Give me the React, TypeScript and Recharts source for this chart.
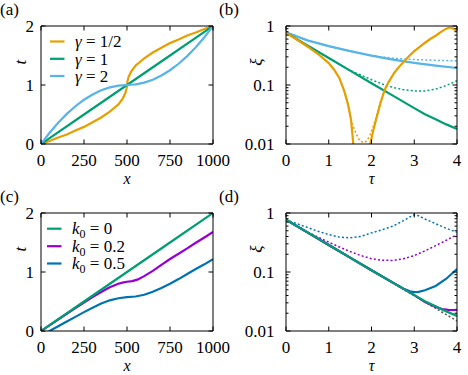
import React from 'react';
import { LineChart, Line, XAxis, YAxis } from 'recharts';

const FONT = '"Liberation Serif", "Times New Roman", serif';
const FS = 17;

const C_ORANGE = '#E69F00';
const C_GREEN = '#009E73';
const C_SKY = '#56B4E9';
const C_PURPLE = '#9400D3';
const C_BLUE = '#0072B2';
const C_GRAY = '#555555';

// ---------- panel (a): t(x) ----------
const aHalfX = [0, 50, 100, 150, 200, 250, 300, 350, 400, 425, 450, 475, 490, 497, 500, 503, 510, 525, 550, 575, 600, 650, 700, 750, 800, 850, 900, 950, 1000];
const aHalfT = [0, 0.05, 0.11, 0.16, 0.23, 0.29, 0.37, 0.45, 0.55, 0.61, 0.67, 0.77, 0.86, 0.93, 1.0, 1.07, 1.14, 1.23, 1.33, 1.39, 1.45, 1.55, 1.63, 1.71, 1.77, 1.84, 1.89, 1.95, 2.0];
const aOneX = [0, 250, 500, 750, 1000];
const aOneT = [0, 0.5, 1, 1.5, 2];
const aTwoX = [0, 50, 100, 150, 200, 250, 300, 350, 400, 450, 500, 550, 600, 650, 700, 750, 800, 850, 900, 950, 1000];
const aTwoT = [0, 0.19, 0.36, 0.51, 0.64, 0.75, 0.84, 0.91, 0.96, 0.99, 1.0, 1.01, 1.04, 1.09, 1.16, 1.25, 1.36, 1.49, 1.64, 1.81, 2.0];

// ---------- panel (b): xi(tau) ----------
const bHalfTau = [0, 0.25, 0.5, 0.75, 1, 1.13, 1.25, 1.36, 1.45, 1.52, 1.575, 1.62, 1.8, 1.93, 1.97, 2.05, 2.14, 2.22, 2.31, 2.4, 2.53, 2.65, 2.77, 2.9, 3.0, 3.12, 3.25, 3.4, 3.51, 3.6, 3.7, 3.8, 3.86, 3.93, 4.0];
const bHalfXi: (number | null)[] = [0.77, 0.59, 0.45, 0.335, 0.235, 0.18, 0.13, 0.08, 0.047, 0.026, 0.01, 0.005, null, 0.005, 0.01, 0.018, 0.032, 0.052, 0.083, 0.112, 0.16, 0.205, 0.255, 0.32, 0.375, 0.44, 0.52, 0.62, 0.69, 0.77, 0.86, 0.935, 0.94, 0.89, 0.8];
const bHalfDotTau = [0, 0.25, 0.5, 0.75, 1, 1.13, 1.25, 1.36, 1.45, 1.54, 1.6, 1.65, 1.72, 1.8, 1.85, 1.9, 1.97, 2.04, 2.12, 2.2, 2.31, 2.4, 2.53, 2.65, 2.77, 2.9, 3.0, 3.12, 3.25, 3.4, 3.51, 3.6, 3.7, 3.8, 3.86, 3.93, 4.0];
const bHalfDotXi = [0.77, 0.59, 0.45, 0.335, 0.235, 0.18, 0.13, 0.08, 0.048, 0.023, 0.0175, 0.0145, 0.0115, 0.0106, 0.0108, 0.0115, 0.0145, 0.02, 0.03, 0.05, 0.083, 0.112, 0.16, 0.205, 0.255, 0.32, 0.375, 0.44, 0.52, 0.62, 0.69, 0.77, 0.86, 0.935, 0.94, 0.89, 0.8];

const greenTau = [0, 0.5, 1, 1.5, 2, 2.5, 3, 3.25, 3.5, 3.75, 4];
const greenXi = [0.77, 0.47, 0.287, 0.175, 0.107, 0.066, 0.0405, 0.032, 0.0262, 0.0215, 0.018];
const bOneDotTau = [0, 0.5, 1, 1.5, 1.75, 2, 2.25, 2.5, 2.75, 3, 3.25, 3.5, 3.75, 4];
const bOneDotXi = [0.77, 0.47, 0.287, 0.175, 0.148, 0.123, 0.104, 0.091, 0.083, 0.0795, 0.0795, 0.085, 0.098, 0.118];

const bTwoTau = [0, 0.5, 1, 1.5, 2, 2.5, 3, 3.5, 4];
const bTwoXi = [0.78, 0.57, 0.455, 0.375, 0.315, 0.27, 0.237, 0.213, 0.194];
const bTwoDotTau = [0, 0.5, 1, 1.5, 2, 2.25, 2.5, 2.75, 3, 3.5, 4];
const bTwoDotXi = [0.78, 0.57, 0.455, 0.375, 0.315, 0.298, 0.285, 0.276, 0.27, 0.262, 0.256];

// ---------- panel (c): t(x) ----------
const cZeroX = [0, 250, 500, 750, 1000];
const cZeroT = [0, 0.5, 1, 1.5, 2];
const cMidX = [0, 100, 200, 300, 350, 400, 450, 480, 500, 530, 560, 600, 650, 700, 750, 800, 850, 900, 950, 1000];
const cMidT = [0, 0.195, 0.39, 0.575, 0.66, 0.74, 0.8, 0.825, 0.835, 0.845, 0.87, 0.93, 1.02, 1.12, 1.22, 1.31, 1.4, 1.495, 1.585, 1.678];
const cHighX = [0, 50, 100, 150, 200, 250, 300, 350, 400, 450, 500, 550, 600, 650, 700, 750, 800, 850, 900, 950, 1000];
const cHighT = [-0.08, 0, 0.08, 0.16, 0.24, 0.32, 0.395, 0.465, 0.52, 0.555, 0.575, 0.585, 0.615, 0.665, 0.73, 0.8, 0.88, 0.965, 1.05, 1.13, 1.215];

// ---------- panel (d): xi(tau) ----------
const dRefTau = [0, 0.5, 1, 1.5, 2, 2.5, 3, 3.5, 4];
const dRefXi = [0.77, 0.47, 0.287, 0.175, 0.1066, 0.065, 0.0397, 0.0242, 0.0148];
const dMidTau = [0, 0.5, 1, 1.5, 2, 2.5, 3, 3.25, 3.5, 3.65, 3.8, 3.9, 4];
const dMidXi = [0.77, 0.47, 0.287, 0.175, 0.107, 0.066, 0.0405, 0.031, 0.0255, 0.0235, 0.0228, 0.0227, 0.0228];
const dHighTau = [0, 0.5, 1, 1.5, 2, 2.5, 2.75, 2.9, 3, 3.1, 3.25, 3.5, 3.75, 4];
const dHighXi = [0.77, 0.47, 0.287, 0.175, 0.107, 0.066, 0.052, 0.047, 0.0455, 0.046, 0.049, 0.058, 0.077, 0.112];
const dHighDotTau = [0, 0.25, 0.5, 0.75, 1, 1.25, 1.5, 1.75, 2, 2.25, 2.5, 2.75, 2.9, 3, 3.1, 3.25, 3.5, 3.75, 4];
const dHighDotXi = [0.77, 0.66, 0.57, 0.49, 0.43, 0.39, 0.38, 0.4, 0.46, 0.52, 0.6, 0.74, 0.86, 0.93, 0.9, 0.79, 0.66, 0.55, 0.47];
const dMidDotTau = [0, 0.25, 0.5, 0.75, 1, 1.25, 1.5, 1.75, 2, 2.25, 2.5, 2.75, 3, 3.25, 3.5, 3.75, 4];
const dMidDotXi = [0.77, 0.6, 0.48, 0.39, 0.32, 0.265, 0.222, 0.19, 0.168, 0.158, 0.157, 0.168, 0.19, 0.228, 0.28, 0.345, 0.43];

// ---------- ticks ----------
const xTicksLin = [0, 250, 500, 750, 1000];
const yTicksLin = [0, 1, 2];
const tauTicks = [0, 1, 2, 3, 4];
const logMajor = [0.01, 0.1, 1];
const logTicks = [0.01, 0.02, 0.03, 0.04, 0.05, 0.06, 0.07, 0.08, 0.09, 0.1, 0.2, 0.3, 0.4, 0.5, 0.6, 0.7, 0.8, 0.9, 1];

const zip = (xs: number[], ys: (number | null)[]) => xs.map((x, i) => ({ x, y: ys[i] }));

type S = { data: { x: number; y: number | null }[]; color: string; dotted?: boolean };

function Panel(props: {
  left: number; top: number; w: number; h: number;
  m: { top: number; right: number; bottom: number; left: number };
  xDomain: [number, number]; xTicks: number[];
  yDomain: [number, number]; yTicks: number[]; yMajor: number[]; log: boolean;
  labelDx: number; series: S[];
}) {
  const { left, top, w, h, m, xDomain, xTicks, yDomain, yTicks, yMajor, log, labelDx, series } = props;
  const BottomTick = (p: any) => (
    <g>
      <line x1={p.x} x2={p.x} y1={p.y} y2={p.y - 4.5} stroke="#000" strokeWidth={1} />
      <text x={p.x} y={p.y + 22} textAnchor="middle" fontFamily={FONT} fontSize={FS} fill="#000">{String(p.payload.value)}</text>
    </g>
  );
  const TopTick = (p: any) => (
    <line x1={p.x} x2={p.x} y1={p.y} y2={p.y + 4.5} stroke="#000" strokeWidth={1} />
  );
  const LeftTick = (p: any) => {
    const v = p.payload.value;
    const major = yMajor.indexOf(v) >= 0;
    return (
      <g>
        <line x1={p.x} x2={p.x + (major ? 4.5 : 2.5)} y1={p.y} y2={p.y} stroke="#000" strokeWidth={1} />
        {major ? (
          <text x={p.x - labelDx} y={p.y + 5.7} textAnchor="end" fontFamily={FONT} fontSize={FS} fill="#000">{String(v)}</text>
        ) : null}
      </g>
    );
  };
  const RightTick = (p: any) => {
    const v = p.payload.value;
    const major = yMajor.indexOf(v) >= 0;
    return <line x1={p.x} x2={p.x - (major ? 4.5 : 2.5)} y1={p.y} y2={p.y} stroke="#000" strokeWidth={1} />;
  };
  const axisLine = { stroke: '#000', strokeWidth: 1 };
  return (
    <div style={{ position: 'absolute', left, top, width: w, height: h }}>
      <LineChart width={w} height={h} margin={m}>
        <XAxis xAxisId="b" orientation="bottom" dataKey="x" type="number" domain={xDomain} ticks={xTicks} interval={0}
          allowDataOverflow height={1} tickSize={0} tickMargin={0} tickLine={false} axisLine={axisLine} tick={BottomTick} />
        <XAxis xAxisId="t" orientation="top" dataKey="x" type="number" domain={xDomain} ticks={xTicks} interval={0}
          allowDataOverflow height={1} tickSize={0} tickMargin={0} tickLine={false} axisLine={axisLine} tick={TopTick} />
        <YAxis yAxisId="l" orientation="left" type="number" scale={log ? 'log' : 'linear'} domain={yDomain} ticks={yTicks} interval={0}
          allowDataOverflow width={1} tickSize={0} tickMargin={0} tickLine={false} axisLine={axisLine} tick={LeftTick} />
        <YAxis yAxisId="r" orientation="right" type="number" scale={log ? 'log' : 'linear'} domain={yDomain} ticks={yTicks} interval={0}
          allowDataOverflow width={1} tickSize={0} tickMargin={0} tickLine={false} axisLine={axisLine} tick={RightTick} />
        {series.map((s, i) => (
          <Line key={i} xAxisId="b" yAxisId="l" data={s.data} dataKey="y" type="linear" stroke={s.color}
            strokeWidth={s.dotted ? 1.5 : 2.2} strokeDasharray={s.dotted ? '2 2.2' : undefined}
            dot={false} activeDot={false} isAnimationActive={false} connectNulls={false} />
        ))}
      </LineChart>
    </div>
  );
}

function T(props: { x: number; y: number; children: React.ReactNode; anchor?: string; italic?: boolean; rotate?: boolean; size?: number }) {
  const { x, y, children, anchor, italic, rotate, size } = props;
  return (
    <text x={x} y={y} textAnchor={anchor || 'start'} fontFamily={FONT} fontSize={size || FS} fill="#000"
      fontStyle={italic ? 'italic' : 'normal'} dominantBaseline={rotate ? 'central' : undefined}
      transform={rotate ? `rotate(-90 ${x} ${y})` : undefined}>{children}</text>
  );
}

function LegendRow(props: { x: number; y: number; color: string; children: React.ReactNode }) {
  const { x, y, color, children } = props;
  return (
    <g>
      <line x1={x} x2={x + 14.5} y1={y} y2={y} stroke={color} strokeWidth={2.2} />
      <text x={x + 25} y={y + 5.7} fontFamily={FONT} fontSize={FS} fill="#000">{children}</text>
    </g>
  );
}

export default function App() {
  const mLeft = { top: 25, right: 20, bottom: 43, left: 40 };
  const mRight = { top: 25, right: 10, bottom: 43, left: 51 };
  return (
    <div style={{ position: 'absolute', left: 0, top: 0, width: 468, height: 375, background: '#fff', overflow: 'hidden' }}>
      <Panel left={0} top={0} w={234} h={188} m={mLeft} xDomain={[0, 1000]} xTicks={xTicksLin}
        yDomain={[0, 2]} yTicks={yTicksLin} yMajor={yTicksLin} log={false} labelDx={7}
        series={[
          { data: zip(aHalfX, aHalfT), color: C_ORANGE },
          { data: zip(aOneX, aOneT), color: C_GREEN },
          { data: zip(aTwoX, aTwoT), color: C_SKY },
        ]} />
      <Panel left={234} top={0} w={234} h={188} m={mRight} xDomain={[0, 4]} xTicks={tauTicks}
        yDomain={[0.01, 1]} yTicks={logTicks} yMajor={logMajor} log={true} labelDx={11.5}
        series={[
          { data: zip(bHalfDotTau, bHalfDotXi), color: C_ORANGE, dotted: true },
          { data: zip(bOneDotTau, bOneDotXi), color: C_GREEN, dotted: true },
          { data: zip(bTwoDotTau, bTwoDotXi), color: C_SKY, dotted: true },
          { data: zip(bTwoTau, bTwoXi), color: C_SKY },
          { data: zip(greenTau, greenXi), color: C_GREEN },
          { data: zip(bHalfTau, bHalfXi), color: C_ORANGE },
        ]} />
      <Panel left={0} top={187} w={234} h={188} m={mLeft} xDomain={[0, 1000]} xTicks={xTicksLin}
        yDomain={[0, 2]} yTicks={yTicksLin} yMajor={yTicksLin} log={false} labelDx={7}
        series={[
          { data: zip(cHighX, cHighT), color: C_BLUE },
          { data: zip(cMidX, cMidT), color: C_PURPLE },
          { data: zip(cZeroX, cZeroT), color: C_GREEN },
        ]} />
      <Panel left={234} top={187} w={234} h={188} m={mRight} xDomain={[0, 4]} xTicks={tauTicks}
        yDomain={[0.01, 1]} yTicks={logTicks} yMajor={logMajor} log={true} labelDx={11.5}
        series={[
          { data: zip(dRefTau, dRefXi), color: C_GRAY, dotted: true },
          { data: zip(dHighDotTau, dHighDotXi), color: C_BLUE, dotted: true },
          { data: zip(dMidDotTau, dMidDotXi), color: C_PURPLE, dotted: true },
          { data: zip(dHighTau, dHighXi), color: C_BLUE },
          { data: zip(dMidTau, dMidXi), color: C_PURPLE },
          { data: zip(greenTau, greenXi), color: C_GREEN },
        ]} />
      <svg width={468} height={375} style={{ position: 'absolute', left: 0, top: 0, pointerEvents: 'none' }}>
        <T x={0} y={15}>(a)</T>
        <T x={219} y={15}>(b)</T>
        <T x={0} y={202}>(c)</T>
        <T x={219} y={202}>(d)</T>
        <T x={127} y={184.3} anchor="middle" italic size={16}>x</T>
        <T x={20.5} y={62} anchor="middle" italic rotate>t</T>
        <T x={371.5} y={184.3} anchor="middle" italic size={16}>τ</T>
        <T x={256} y={62} anchor="middle" italic rotate>ξ</T>
        <T x={127} y={371.3} anchor="middle" italic size={16}>x</T>
        <T x={20.5} y={249} anchor="middle" italic rotate>t</T>
        <T x={371.5} y={371.3} anchor="middle" italic size={16}>τ</T>
        <T x={256} y={249} anchor="middle" italic rotate>ξ</T>
        <LegendRow x={50} y={41.5} color={C_ORANGE}><tspan fontStyle="italic">γ</tspan> = 1/2</LegendRow>
        <LegendRow x={50} y={58.8} color={C_GREEN}><tspan fontStyle="italic">γ</tspan> = 1</LegendRow>
        <LegendRow x={50} y={76} color={C_SKY}><tspan fontStyle="italic">γ</tspan> = 2</LegendRow>
        <LegendRow x={47} y={228.7} color={C_GREEN}><tspan fontStyle="italic">k</tspan><tspan fontSize={12} dy={4}>0</tspan><tspan dy={-4}> = 0</tspan></LegendRow>
        <LegendRow x={47} y={246.2} color={C_PURPLE}><tspan fontStyle="italic">k</tspan><tspan fontSize={12} dy={4}>0</tspan><tspan dy={-4}> = 0.2</tspan></LegendRow>
        <LegendRow x={47} y={263.5} color={C_BLUE}><tspan fontStyle="italic">k</tspan><tspan fontSize={12} dy={4}>0</tspan><tspan dy={-4}> = 0.5</tspan></LegendRow>
      </svg>
    </div>
  );
}
